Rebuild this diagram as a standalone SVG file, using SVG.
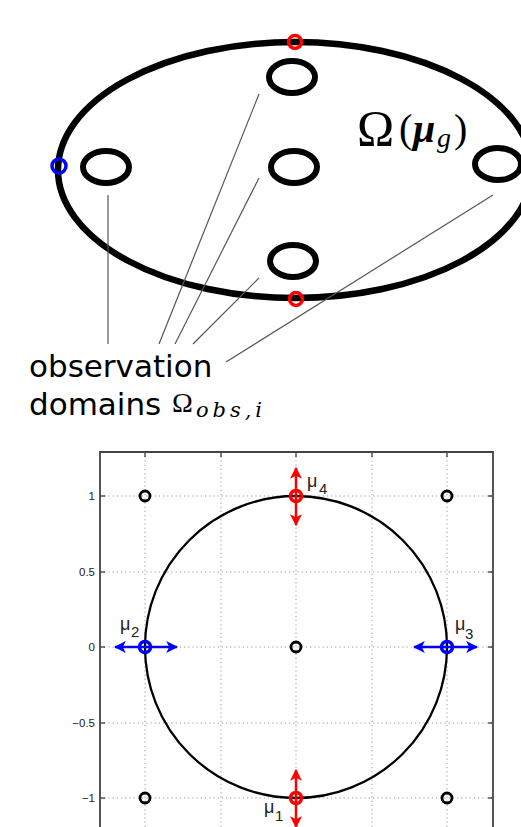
<svg xmlns="http://www.w3.org/2000/svg" width="521" height="827" viewBox="0 0 521 827">
<defs>
<style>
.dom{fill:none;stroke:#000;stroke-width:6}
.lead{stroke:#555;stroke-width:1.2;fill:none}
.grid{stroke:#999;stroke-width:1;stroke-dasharray:1.2 3;fill:none}
.axis{stroke:#444;stroke-width:1.8;fill:none}
.tick{stroke:#000;stroke-width:1}
.pt{fill:none;stroke:#000;stroke-width:2.8}
.red{fill:none;stroke:#f00;stroke-width:3.5}
.blue{fill:none;stroke:#00f;stroke-width:3.5}
.ra{stroke:#f00;stroke-width:2.5}
.ba{stroke:#00f;stroke-width:2.5}
.tl{font-family:"Liberation Sans",Arial,sans-serif;font-size:11.5px;fill:#222;text-anchor:end}
.mu{font-family:"Liberation Sans",Arial,sans-serif;font-size:18px;fill:#222}
.sub{font-family:"Liberation Sans",Arial,sans-serif;font-size:15px;fill:#222}
.lbl{font-family:"DejaVu Sans",sans-serif;font-size:31px;fill:#000}
.ser{font-family:"Liberation Serif","Times New Roman",serif;fill:#000}
</style>
<marker id="ahr" viewBox="0 0 10 10" refX="9" refY="5" markerWidth="12" markerHeight="12" markerUnits="userSpaceOnUse" orient="auto"><path d="M0,0 L10,5 L0,10 L2.5,5 Z" fill="#f00"/></marker>
<marker id="ahb" viewBox="0 0 10 10" refX="9" refY="5" markerWidth="12" markerHeight="12" markerUnits="userSpaceOnUse" orient="auto"><path d="M0,0 L10,5 L0,10 L2.5,5 Z" fill="#00f"/></marker>
</defs>

<g id="domain">
<ellipse cx="295" cy="170" rx="237" ry="128" fill="none" stroke="#000" stroke-width="6.5"/>
</g>
<g id="obs-domains">
<ellipse id="obs-top" class="dom" cx="292" cy="77" rx="23" ry="16"/>
<ellipse id="obs-left" class="dom" cx="106" cy="167" rx="23" ry="16"/>
<ellipse id="obs-center" class="dom" cx="294" cy="167" rx="23" ry="16"/>
<ellipse id="obs-bottom" class="dom" cx="293" cy="261" rx="23" ry="16"/>
<ellipse id="obs-right" class="dom" cx="498" cy="164" rx="23" ry="16"/>
</g>
<g id="mu-points-top">
<circle class="red" cx="295" cy="42" r="6.5" stroke-width="3"/>
<circle class="red" cx="296" cy="299" r="6.5" stroke-width="3"/>
<circle class="blue" cx="59" cy="166" r="7" stroke-width="3"/>
</g>
<g id="leaders">
<line class="lead" x1="108" y1="195" x2="108" y2="344"/>
<line class="lead" x1="259" y1="94" x2="159" y2="344"/>
<line class="lead" x1="259" y1="178" x2="175" y2="344"/>
<line class="lead" x1="259" y1="278" x2="193" y2="344"/>
<line class="lead" x1="493" y1="195" x2="226" y2="362"/>
</g>
<g id="label-omega-g">
<text class="ser" x="357" y="145" font-size="50">Ω</text>
<text class="ser" x="399" y="142" font-size="40">(</text>
<text class="ser" x="413" y="142" font-size="40" font-weight="bold" font-style="italic">μ</text>
<text class="ser" x="437" y="147" font-size="28" font-style="italic">g</text>
<text class="ser" x="454" y="142" font-size="40">)</text>
</g>
<g id="label-obs">
<text class="lbl" x="29" y="377">observation</text>
<text class="lbl" x="29" y="415">domains</text>
<text class="ser" x="172" y="412" font-size="28">Ω</text>
<text x="196" y="417" font-family="'DejaVu Serif',serif" font-size="21" font-style="italic" textLength="66" lengthAdjust="spacing">obs,i</text>
</g>

<g id="plot">
<g id="grid">
<line class="grid" x1="145" y1="452" x2="145" y2="827"/>
<line class="grid" x1="221" y1="452" x2="221" y2="827"/>
<line class="grid" x1="296" y1="452" x2="296" y2="827"/>
<line class="grid" x1="372" y1="452" x2="372" y2="827"/>
<line class="grid" x1="447" y1="452" x2="447" y2="827"/>
<line class="grid" x1="100" y1="496" x2="493" y2="496"/>
<line class="grid" x1="100" y1="572" x2="493" y2="572"/>
<line class="grid" x1="100" y1="647" x2="493" y2="647"/>
<line class="grid" x1="100" y1="723" x2="493" y2="723"/>
<line class="grid" x1="100" y1="798" x2="493" y2="798"/>
</g>
<g id="ticks">
<line class="tick" x1="100" y1="496" x2="105" y2="496"/>
<line class="tick" x1="100" y1="572" x2="105" y2="572"/>
<line class="tick" x1="100" y1="647" x2="105" y2="647"/>
<line class="tick" x1="100" y1="723" x2="105" y2="723"/>
<line class="tick" x1="100" y1="798" x2="105" y2="798"/>
<line class="tick" x1="488" y1="496" x2="493" y2="496"/>
<line class="tick" x1="488" y1="572" x2="493" y2="572"/>
<line class="tick" x1="488" y1="647" x2="493" y2="647"/>
<line class="tick" x1="488" y1="723" x2="493" y2="723"/>
<line class="tick" x1="488" y1="798" x2="493" y2="798"/>
<line class="tick" x1="145" y1="452" x2="145" y2="457"/>
<line class="tick" x1="221" y1="452" x2="221" y2="457"/>
<line class="tick" x1="296" y1="452" x2="296" y2="457"/>
<line class="tick" x1="372" y1="452" x2="372" y2="457"/>
<line class="tick" x1="447" y1="452" x2="447" y2="457"/>
</g>
<path class="axis" d="M100,827 V452 H493 V827"/>
<g id="tick-labels">
<text class="tl" x="95" y="500">1</text>
<text class="tl" x="95" y="576">0.5</text>
<text class="tl" x="95" y="651">0</text>
<text class="tl" x="95" y="727">−0.5</text>
<text class="tl" x="95" y="802">−1</text>
</g>
<circle id="circle" cx="296" cy="647" r="151" fill="none" stroke="#000" stroke-width="2.3"/>
<g id="obs-points">
<circle class="pt" cx="145" cy="496" r="5"/>
<circle class="pt" cx="447" cy="496" r="5"/>
<circle class="pt" cx="296" cy="647" r="5"/>
<circle class="pt" cx="145" cy="798" r="5"/>
<circle class="pt" cx="447" cy="798" r="5"/>
</g>
<g id="connectors">
<line class="ra" x1="296" y1="496" x2="296" y2="468" marker-end="url(#ahr)"/>
<line class="ra" x1="296" y1="496" x2="296" y2="525" marker-end="url(#ahr)"/>
<line class="ra" x1="296" y1="798" x2="296" y2="770" marker-end="url(#ahr)"/>
<line class="ra" x1="296" y1="798" x2="296" y2="827" marker-end="url(#ahr)"/>
<line class="ba" x1="145" y1="647" x2="115" y2="647" marker-end="url(#ahb)"/>
<line class="ba" x1="145" y1="647" x2="177" y2="647" marker-end="url(#ahb)"/>
<line class="ba" x1="447" y1="647" x2="414" y2="647" marker-end="url(#ahb)"/>
<line class="ba" x1="447" y1="647" x2="477" y2="647" marker-end="url(#ahb)"/>
</g>
<g id="mu4"><circle class="red" cx="296" cy="496" r="5.5"/><text class="mu" x="307" y="487">μ</text><text class="sub" x="319" y="494">4</text></g>
<g id="mu1"><circle class="red" cx="296" cy="798" r="5.5"/><text class="mu" x="264" y="813">μ</text><text class="sub" x="275" y="821">1</text></g>
<g id="mu2"><circle class="blue" cx="145" cy="647" r="5.5"/><text class="mu" x="120" y="630">μ</text><text class="sub" x="131" y="637">2</text></g>
<g id="mu3"><circle class="blue" cx="447" cy="647" r="5.5"/><text class="mu" x="455" y="630">μ</text><text class="sub" x="465" y="639">3</text></g>
</g>
</svg>
